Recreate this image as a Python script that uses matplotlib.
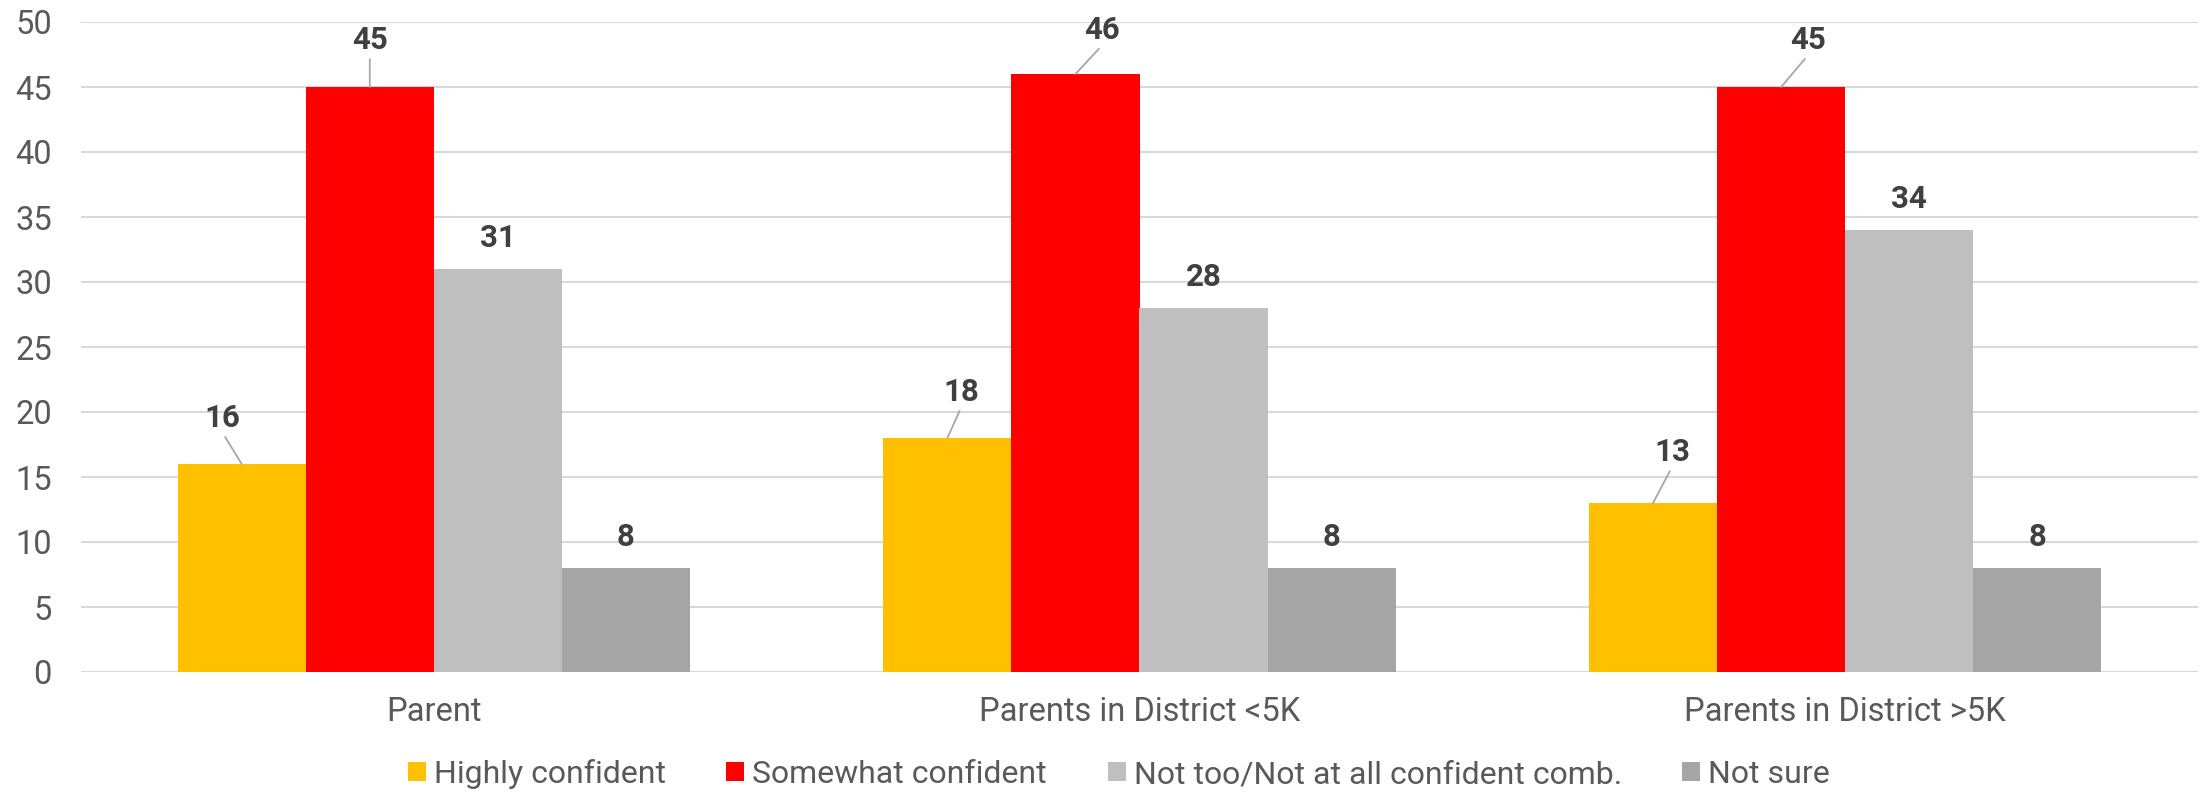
import matplotlib
matplotlib.use("Agg")
import matplotlib.pyplot as plt
import numpy as np

plt.rcParams['font.family'] = ['Roboto', 'DejaVu Sans']

categories = ['Parent', 'Parents in District <5K', 'Parents in District >5K']
series_names = ['Highly confident', 'Somewhat confident',
                'Not too/Not at all confident comb.', 'Not sure']
highly = [16, 18, 13]
somewhat = [45, 46, 45]
not_confident = [31, 28, 34]
not_sure = [8, 8, 8]
y_ticks = [0, 5, 10, 15, 20, 25, 30, 35, 40, 45, 50]

colors = ['#FFC000', '#FF0000', '#BFBFBF', '#A5A5A5']
# label offsets in pixels (dx, dy) for labels that carry a leader line
leaders = {(0, 0): (-19, 46), (0, 1): (0, 47),
           (1, 0): (14, 46), (1, 1): (27, 44),
           (2, 0): (19, 51), (2, 1): (27, 47)}

fig = plt.figure(figsize=(22.01, 7.92), dpi=100)
ax = fig.add_axes([81 / 2201, 1 - 672 / 792, 2117 / 2201, 650 / 792])

x = np.arange(len(categories))
width = 0.1815
all_series = [highly, somewhat, not_confident, not_sure]
for i, (vals, col, name) in enumerate(zip(all_series, colors, series_names)):
    pos = x + (i - 1.5) * width
    ax.bar(pos, vals, width, color=col, label=name, zorder=2)
    for g, (px, v) in enumerate(zip(pos, vals)):
        if (g, i) in leaders:
            dx, dy = leaders[(g, i)]
            ax.annotate(str(v), xy=(px, v), xytext=(dx, dy),
                        textcoords='offset pixels', ha='center', va='center',
                        fontsize=22.5, fontweight='bold', color='#404040',
                        arrowprops=dict(arrowstyle='-', color='#A6A6A6', lw=1.3,
                                        shrinkA=1, shrinkB=0, relpos=(0.5, 0)))
        else:
            ax.annotate(str(v), xy=(px, v), xytext=(0, 31),
                        textcoords='offset pixels', ha='center', va='center',
                        fontsize=22.5, fontweight='bold', color='#404040')

ax.set_xlim(-0.5, 2.5)
ax.set_ylim(0, 50)
ax.set_yticks(y_ticks)
ax.set_xticks(x)
ax.set_xticklabels(categories)
ax.tick_params(axis='y', length=0, pad=21, labelsize=23.5, labelcolor='#595959')
ax.tick_params(axis='x', length=0, pad=17, labelsize=23.5, labelcolor='#595959')
ax.grid(axis='y', color='#D9D9D9', lw=1.5, zorder=0)
for s in ax.spines.values():
    s.set_visible(False)

fig.legend(loc='center', bbox_to_anchor=(1119 / 2201, 1 - 774 / 792), ncol=4,
           frameon=False, fontsize=23, labelcolor='#595959',
           handlelength=0.56, handleheight=0.56, handletextpad=0.25,
           columnspacing=1.9)

fig.savefig('out.png', dpi=100)
